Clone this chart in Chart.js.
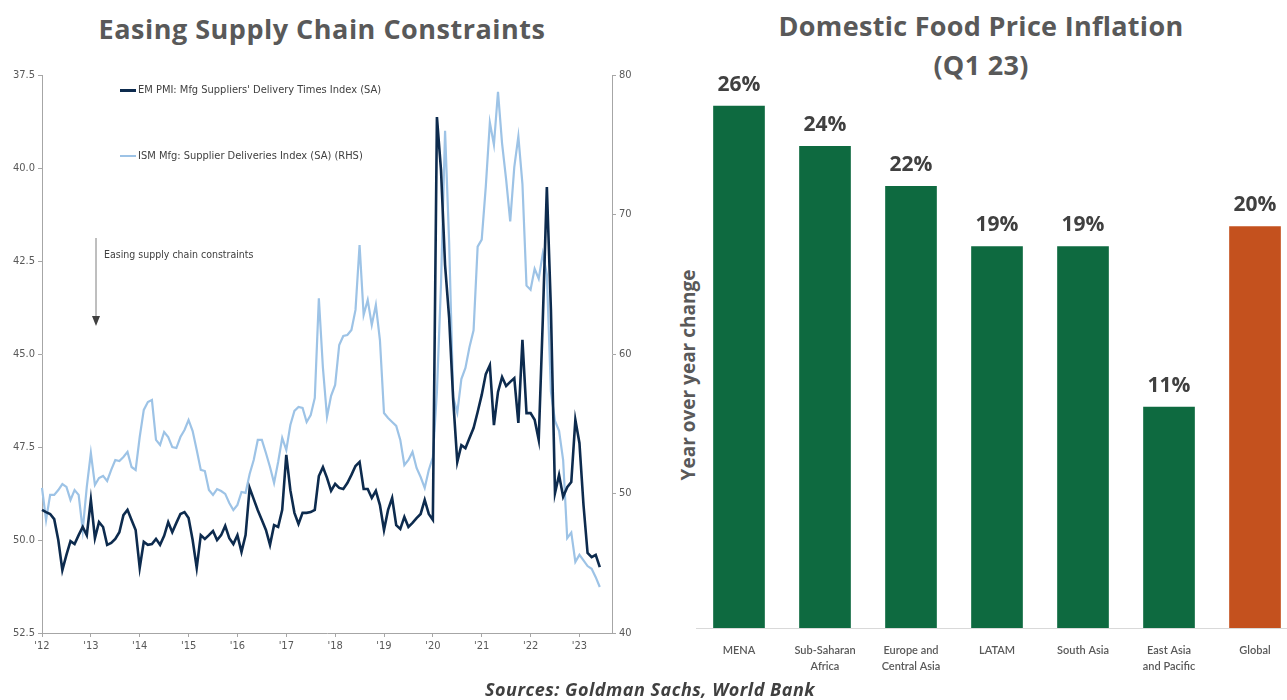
<!DOCTYPE html>
<html>
<head>
<meta charset="utf-8">
<script src="https://cdn.jsdelivr.net/npm/chart.js@4.4.1/dist/chart.umd.min.js"></script>
<style>
  html, body { margin:0; padding:0; background:#fff; width:1287px; height:700px; overflow:hidden; }
  .abs { position:absolute; }
  .title { font-family:"Open Sans", Lato, sans-serif; font-weight:700; color:#595959; white-space:nowrap; transform:translateX(-50%); }
  .legtxt { font-family:"Liberation Sans Narrow","DejaVu Sans Condensed",sans-serif; font-size:11px; color:#404040; white-space:nowrap; }
</style>
</head>
<body>
<div class="abs title" style="left:322px; top:10px; font-size:27px; letter-spacing:0.5px;">Easing Supply Chain Constraints</div>
<div class="abs title" style="left:981px; top:6px; font-size:27px; letter-spacing:0.3px; text-align:center; line-height:39px;">Domestic Food Price Inflation<br>(Q1 23)</div>
<div class="abs" style="left:688px; top:375px; transform:translate(-50%,-50%) rotate(-90deg); font-family:'Open Sans',Lato,sans-serif; font-weight:700; font-size:19px; color:#595959; white-space:nowrap;">Year over year change</div>

<canvas id="left" class="abs" style="left:0px; top:60px;" width="650" height="605"></canvas>
<canvas id="right" class="abs" style="left:650px; top:60px;" width="637" height="620"></canvas>

<!-- legend & annotation -->
<div class="abs" style="left:120px; top:89px; width:16px; height:3px; background:#0D2B4E;"></div>
<div class="abs legtxt" style="left:138px; top:83px;">EM PMI: Mfg Suppliers' Delivery Times Index (SA)</div>
<div class="abs" style="left:120px; top:155px; width:16px; height:2px; background:#9DC3E6;"></div>
<div class="abs legtxt" style="left:138px; top:149px;">ISM Mfg: Supplier Deliveries Index (SA) (RHS)</div>
<div class="abs legtxt" style="left:104px; top:248px; font-size:10.5px;">Easing supply chain constraints</div>
<svg class="abs" style="left:88px; top:236px;" width="16" height="94">
  <line x1="8" y1="2" x2="8" y2="82" stroke="#7F7F7F" stroke-width="1"/>
  <polygon points="4,80 12,80 8,90" fill="#404040"/>
</svg>

<div class="abs" style="left:650px; top:677px; transform:translateX(-50%); font-family:'Open Sans',Lato,sans-serif; font-weight:700; font-style:italic; font-size:18px; letter-spacing:0.5px; color:#404040; white-space:nowrap;">Sources: Goldman Sachs, World Bank</div>

<script>
// ---------- Left chart data ----------
const yearLabels = ["'12","'13","'14","'15","'16","'17","'18","'19","'20","'21","'22","'23"];
const emPmiDelivery = [
  49.19,49.25,49.30,49.44,50.00,50.81,50.40,50.03,50.11,49.87,49.65,49.87,
  48.92,49.95,49.52,49.65,50.13,50.08,49.97,49.79,49.33,49.19,49.46,49.73,
  50.75,50.05,50.13,50.11,49.97,50.13,49.89,49.52,49.79,49.54,49.30,49.25,
  49.41,50.00,50.75,49.87,49.97,49.87,49.76,50.00,49.87,49.62,49.95,50.11,
  49.87,50.32,49.87,48.60,48.90,49.20,49.46,49.73,50.13,49.60,49.65,49.19,
  47.71,48.66,49.27,49.57,49.27,49.27,49.25,49.19,48.28,48.04,48.33,48.68,
  48.49,48.60,48.63,48.47,48.25,48.01,47.90,48.63,48.63,48.87,48.68,49.06,
  49.73,49.19,48.87,49.60,49.70,49.38,49.65,49.54,49.41,49.30,48.92,49.30,
  49.46,38.63,40.05,42.61,44.03,46.24,47.90,47.45,47.53,47.26,46.99,46.56,
  46.10,45.54,45.30,46.91,46.02,45.62,45.86,45.75,45.65,46.85,44.62,46.59,
  46.59,46.77,47.31,44.09,40.51,43.82,48.74,48.25,48.84,48.58,48.44,46.77,
  47.39,49.06,50.35,50.46,50.40,50.73
];
const ismSupplierDeliveries = [
  50.40,48.10,49.90,49.90,50.25,50.68,50.47,49.54,50.25,49.90,47.39,50.47,
  52.90,50.61,51.11,51.26,50.90,51.69,52.40,52.33,52.62,52.98,51.90,51.69,
  54.05,55.99,56.56,56.70,53.84,53.48,54.41,54.05,53.33,53.26,54.05,54.55,
  55.27,54.48,53.12,51.69,51.61,50.25,49.90,50.32,50.18,49.97,49.32,48.82,
  49.18,50.11,50.04,51.40,52.40,53.84,53.84,52.90,51.90,50.75,52.26,53.98,
  53.12,54.91,55.92,56.20,56.13,55.13,55.63,56.85,64.00,59.00,55.50,57.00,
  57.78,60.65,61.29,61.36,61.72,63.16,67.81,62.80,63.87,62.08,63.51,61.00,
  55.77,55.41,55.13,54.85,53.84,52.04,52.40,52.98,51.83,51.18,50.40,51.69,
  52.6,57.3,65.0,76.0,68.0,56.9,55.8,58.2,59.0,60.5,61.7,67.7,
  68.2,72.0,76.6,75.0,78.8,75.1,72.5,69.5,73.4,75.6,72.2,64.9,
  64.6,66.1,65.4,67.2,65.7,57.3,55.2,54.5,52.4,46.8,47.2,45.1,
  45.6,45.2,44.8,44.6,44.0,43.3
];
const legend1 = "EM PMI: Mfg Suppliers' Delivery Times Index (SA)";
const legend2 = "ISM Mfg: Supplier Deliveries Index (SA) (RHS)";

// ---------- Right chart data ----------
const regions = [["MENA"],["Sub-Saharan","Africa"],["Europe and","Central Asia"],["LATAM"],["South Asia"],["East Asia","and Pacific"],["Global"]];
const foodInflation = [26, 24, 22, 19, 19, 11, 20];

// month labels (Jan 2012 .. Sep 2023)
const monthLabels = [];
for (let y = 0; y < yearLabels.length; y++) {
  for (let m = 0; m < 12; m++) {
    if (monthLabels.length < 141) monthLabels.push({year: yearLabels[y], month: m});
  }
}

const axisFont = {family: "'Liberation Sans Narrow','DejaVu Sans Condensed',sans-serif", size: 11};
const axisColor = '#595959';
const lineAxis = '#A6A6A6';

new Chart(document.getElementById('left'), {
  type: 'line',
  data: {
    labels: monthLabels.map(l => l.year + '-' + (l.month + 1)),
    datasets: [
      {label: legend1, data: emPmiDelivery, yAxisID: 'y', borderColor: '#0D2B4E', borderWidth: 2.6, pointRadius: 0, tension: 0},
      {label: legend2, data: ismSupplierDeliveries, yAxisID: 'y1', borderColor: '#9DC3E6', borderWidth: 2.2, pointRadius: 0, tension: 0}
    ]
  },
  options: {
    responsive: false, animation: false,
    layout: {padding: {top: 15, left: 0, right: 0, bottom: 0}},
    plugins: {legend: {display: false}, tooltip: {enabled: false}},
    scales: {
      x: {
        grid: {drawOnChartArea: false, drawTicks: true, tickLength: 4, color: lineAxis},
        border: {color: lineAxis},
        ticks: {autoSkip: false, maxRotation: 0, padding: 3, font: axisFont, color: axisColor,
          callback: (v, i) => monthLabels[i].month === 0 ? monthLabels[i].year : null},
        afterFit: s => { s.height = 32; }
      },
      y: {
        position: 'left', reverse: true, min: 37.5, max: 52.5,
        ticks: {stepSize: 2.5, font: axisFont, color: axisColor, padding: 3, callback: v => Number(v).toFixed(1)},
        grid: {drawOnChartArea: false, tickLength: 4, color: lineAxis},
        border: {color: lineAxis},
        afterFit: s => { s.width = 42; }
      },
      y1: {
        position: 'right', min: 40, max: 80,
        ticks: {stepSize: 10, font: axisFont, color: axisColor, padding: 3},
        grid: {drawOnChartArea: false, tickLength: 4, color: lineAxis},
        border: {color: lineAxis},
        afterFit: s => { s.width = 38; }
      }
    }
  }
});

const barLabelPlugin = {
  id: 'barLabels',
  afterDatasetsDraw(chart) {
    const ctx = chart.ctx;
    const meta = chart.getDatasetMeta(0);
    ctx.save();
    ctx.font = "700 21px 'Open Sans', Lato, sans-serif";
    ctx.fillStyle = '#404040';
    ctx.textAlign = 'center';
    ctx.textBaseline = 'bottom';
    meta.data.forEach((bar, i) => {
      ctx.fillText(foodInflation[i] + '%', bar.x, bar.y - 11);
    });
    ctx.restore();
  }
};

new Chart(document.getElementById('right'), {
  type: 'bar',
  data: {
    datasets: [{
      data: foodInflation.map((v, i) => ({x: i, y: v})),
      backgroundColor: regions.map(r => r[0] === 'Global' ? '#C4511E' : '#0E6A40'),
      barThickness: 51
    }]
  },
  options: {
    responsive: false, animation: false,
    layout: {padding: {top: 16, right: 0, left: 46, bottom: 0}},
    plugins: {legend: {display: false}, tooltip: {enabled: false}},
    scales: {
      x: {
        type: 'linear', min: -0.5, max: 6.372, offset: false,
        afterBuildTicks: s => { s.ticks = regions.map((_, i) => ({value: i})); },
        ticks: {autoSkip: false, maxRotation: 0, padding: 6, color: '#595959',
          font: {family: "Lato, 'Open Sans', sans-serif", size: 11, weight: '600', lineHeight: 1.5},
          callback: v => regions[v]},
        grid: {display: false, offset: false},
        border: {color: '#D9D9D9', width: 1},
        afterFit: s => { s.height = 52; }
      },
      y: {
        display: false,
        min: 0, max: 27.5
      }
    }
  },
  plugins: [barLabelPlugin]
});
</script>
</body>
</html>
